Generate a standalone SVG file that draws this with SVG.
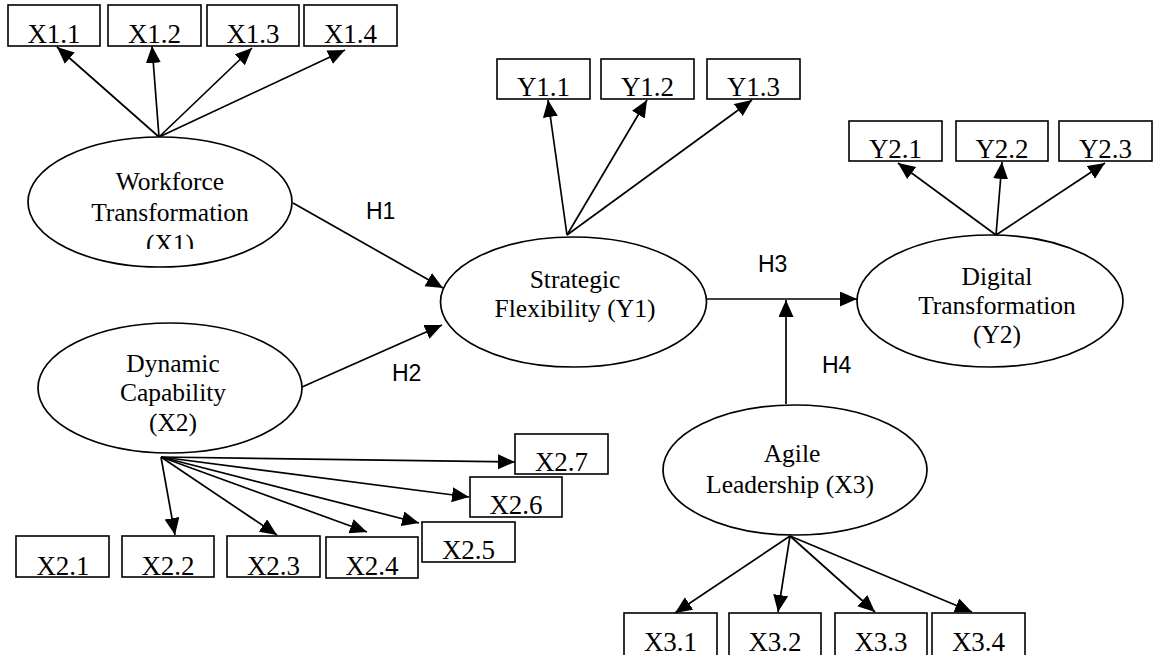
<svg xmlns="http://www.w3.org/2000/svg" width="1153" height="655" viewBox="0 0 1153 655">
<style>
.bg{fill:#fff}
.box{fill:#fff;stroke:#000;stroke-width:1.6}
.ell{fill:#fff;stroke:#000;stroke-width:1.7}
.bt{font-family:"Liberation Serif","Times New Roman",serif;font-size:27px;fill:#000;text-anchor:middle}
.et{font-family:"Liberation Serif","Times New Roman",serif;font-size:25.5px;fill:#000;text-anchor:middle}
.ht{font-family:"Liberation Sans",Arial,sans-serif;font-size:23px;fill:#000}
.c line{stroke:#000;stroke-width:1.7;marker-end:url(#ah)}
</style>
<defs>
<marker id="ah" markerUnits="userSpaceOnUse" markerWidth="19" markerHeight="16" refX="17" refY="7.5" orient="auto">
<path d="M0,0 L17,7.5 L0,15 z" fill="#000"/>
</marker>
<clipPath id="clipX1"><rect x="0" y="0" width="400" height="249"/></clipPath>
</defs>
<rect class="bg" x="0" y="0" width="1153" height="655"/>

<g id="connectors" class="c">
<line x1="159" y1="137" x2="57" y2="47"/>
<line x1="159" y1="137" x2="152" y2="46"/>
<line x1="159" y1="137" x2="252" y2="48"/>
<line x1="159" y1="137" x2="345" y2="50"/>
<line x1="293" y1="203" x2="443" y2="288"/>
<line x1="302" y1="387" x2="442" y2="325"/>
<line x1="567" y1="235" x2="548" y2="100"/>
<line x1="567" y1="235" x2="647" y2="100"/>
<line x1="567" y1="235" x2="752" y2="100"/>
<line x1="707" y1="299" x2="857" y2="299"/>
<line x1="786" y1="404" x2="786" y2="300"/>
<line x1="996" y1="235" x2="898" y2="163"/>
<line x1="996" y1="235" x2="1002" y2="162"/>
<line x1="996" y1="235" x2="1105" y2="163"/>
<line x1="161" y1="457" x2="175" y2="535"/>
<line x1="161" y1="457" x2="277" y2="535"/>
<line x1="161" y1="457" x2="367" y2="532"/>
<line x1="161" y1="457" x2="419" y2="523"/>
<line x1="161" y1="457" x2="469" y2="497"/>
<line x1="161" y1="457" x2="515" y2="462"/>
<line x1="790" y1="536" x2="675" y2="613"/>
<line x1="790" y1="536" x2="778" y2="612"/>
<line x1="790" y1="536" x2="875" y2="612"/>
<line x1="790" y1="536" x2="972" y2="612"/>
<path d="M992,236.5 H1002" stroke="#000" stroke-width="1.5" fill="none"/>
</g>

<g id="labels">
<text class="ht" x="366" y="219">H1</text>
<text class="ht" x="392" y="381">H2</text>
<text class="ht" x="758" y="272">H3</text>
<text class="ht" x="822" y="373">H4</text>
</g>

<g id="X1">
<ellipse class="ell" cx="160" cy="202" rx="132" ry="65"/>
<g clip-path="url(#clipX1)">
<text class="et" x="170" y="190">Workforce</text>
<text class="et" x="170" y="221">Transformation</text>
<text class="et" x="170" y="252">(X1)</text>
</g>
</g>
<g id="X2">
<ellipse class="ell" cx="170" cy="388" rx="132" ry="65"/>
<text class="et" x="173" y="372">Dynamic</text>
<text class="et" x="173" y="401">Capability</text>
<text class="et" x="173" y="431">(X2)</text>
</g>
<g id="Y1">
<ellipse class="ell" cx="573.5" cy="302" rx="133" ry="65"/>
<text class="et" x="575" y="288">Strategic</text>
<text class="et" x="575" y="317">Flexibility (Y1)</text>
</g>
<g id="Y2">
<ellipse class="ell" cx="990" cy="301" rx="133" ry="66"/>
<text class="et" x="997" y="285">Digital</text>
<text class="et" x="997" y="314">Transformation</text>
<text class="et" x="997" y="343">(Y2)</text>
</g>
<g id="X3">
<ellipse class="ell" cx="795" cy="470" rx="132" ry="65"/>
<text class="et" x="792" y="462">Agile</text>
<text class="et" x="790" y="493">Leadership (X3)</text>
</g>

<g id="X1.1"><rect class="box" x="8" y="5" width="92" height="41"/><text class="bt" x="54" y="43">X1.1</text></g>
<g id="X1.2"><rect class="box" x="108" y="5" width="93" height="41"/><text class="bt" x="154.5" y="43">X1.2</text></g>
<g id="X1.3"><rect class="box" x="207" y="5" width="92" height="41"/><text class="bt" x="253" y="43">X1.3</text></g>
<g id="X1.4"><rect class="box" x="304" y="5" width="93" height="41"/><text class="bt" x="350.5" y="43">X1.4</text></g>

<g id="Y1.1"><rect class="box" x="497" y="59" width="93" height="40"/><text class="bt" x="543.5" y="96">Y1.1</text></g>
<g id="Y1.2"><rect class="box" x="601" y="59" width="93" height="40"/><text class="bt" x="647.5" y="96">Y1.2</text></g>
<g id="Y1.3"><rect class="box" x="707" y="59" width="93" height="40"/><text class="bt" x="753.5" y="96">Y1.3</text></g>

<g id="Y2.1"><rect class="box" x="849" y="121" width="93" height="40"/><text class="bt" x="895.5" y="158">Y2.1</text></g>
<g id="Y2.2"><rect class="box" x="956" y="121" width="92" height="40"/><text class="bt" x="1002" y="158">Y2.2</text></g>
<g id="Y2.3"><rect class="box" x="1059" y="121" width="93" height="40"/><text class="bt" x="1105.5" y="158">Y2.3</text></g>

<g id="X2.7"><rect class="box" x="515" y="434" width="93" height="40"/><text class="bt" x="561.5" y="471">X2.7</text></g>
<g id="X2.6"><rect class="box" x="470" y="477" width="92" height="40"/><text class="bt" x="516" y="514">X2.6</text></g>
<g id="X2.5"><rect class="box" x="422" y="522" width="93" height="40"/><text class="bt" x="468.5" y="559">X2.5</text></g>
<g id="X2.1"><rect class="box" x="16" y="536" width="93" height="41"/><text class="bt" x="63" y="575">X2.1</text></g>
<g id="X2.2"><rect class="box" x="122" y="536" width="92" height="41"/><text class="bt" x="168" y="575">X2.2</text></g>
<g id="X2.3"><rect class="box" x="227" y="536" width="93" height="41"/><text class="bt" x="273.5" y="575">X2.3</text></g>
<g id="X2.4"><rect class="box" x="326" y="537" width="92" height="41"/><text class="bt" x="372" y="575">X2.4</text></g>

<g id="X3.1"><rect class="box" x="624" y="613" width="93" height="45"/><text class="bt" x="670.5" y="651">X3.1</text></g>
<g id="X3.2"><rect class="box" x="729" y="613" width="92" height="45"/><text class="bt" x="775" y="651">X3.2</text></g>
<g id="X3.3"><rect class="box" x="835" y="613" width="92" height="45"/><text class="bt" x="881" y="651">X3.3</text></g>
<g id="X3.4"><rect class="box" x="932" y="613" width="93" height="45"/><text class="bt" x="978.5" y="651">X3.4</text></g>
</svg>
